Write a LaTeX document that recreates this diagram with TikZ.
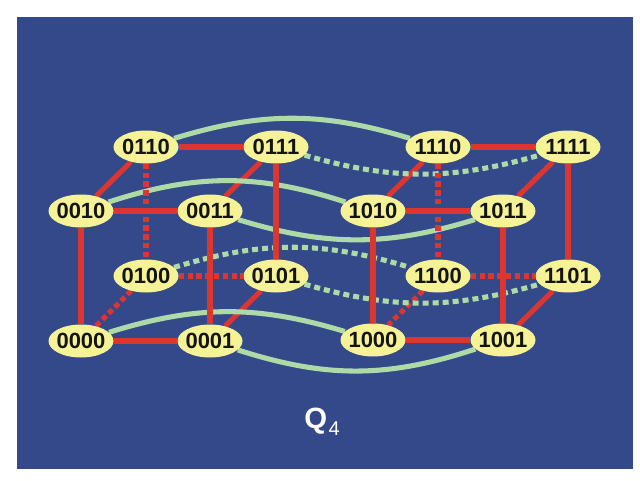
\documentclass[tikz,border=0pt]{standalone}
\usepackage{fontspec}
\setmainfont{Liberation Sans}
\usetikzlibrary{shapes.geometric}
\definecolor{bgblue}{RGB}{52,73,138}
\definecolor{edgered}{RGB}{221,53,48}
\definecolor{curvegreen}{RGB}{174,218,168}
\definecolor{nodeyellow}{RGB}{246,243,150}
\definecolor{labelink}{RGB}{20,20,20}
\pgfdeclarelayer{bg}
\pgfdeclarelayer{lowred}
\pgfdeclarelayer{greens}
\pgfdeclarelayer{topred}
\pgfsetlayers{bg,lowred,greens,topred,main}
\tikzset{
  vtx/.style={ellipse, fill=nodeyellow, minimum width=48.75pt, minimum height=24.75pt,
    inner sep=0pt, text=labelink, font=\fontsize{16.5}{18}\selectfont\bfseries},
  redline/.style={draw=edgered, line width=3.8pt},
  reddash/.style={draw=edgered, line width=3.8pt, dash pattern=on 4pt off 2.6pt},
  greenline/.style={draw=curvegreen, line width=3.8pt},
  greendot/.style={draw=curvegreen, line width=3.8pt, dash pattern=on 4.5pt off 3pt}
}
\newcommand{\vlabel}[1]{\makebox[0pt][c]{#1}}
\begin{document}
\begin{tikzpicture}[x=0.75pt,y=0.75pt]
\useasboundingbox (0,0) rectangle (640,480);
\begin{pgfonlayer}{bg}
\fill[white] (0,0) rectangle (640,480);
\fill[bgblue] (17,11) rectangle (633,463);
\end{pgfonlayer}
% vertices
\node[vtx] (n0110) at (146,333) {\vlabel{0110}};
\node[vtx] (n0111) at (276,333) {\vlabel{0111}};
\node[vtx] (n1110) at (438,333) {\vlabel{1110}};
\node[vtx] (n1111) at (568,333) {\vlabel{1111}};
\node[vtx] (n0010) at (81,269) {\vlabel{0010}};
\node[vtx] (n0011) at (210,269) {\vlabel{0011}};
\node[vtx] (n1010) at (373,269) {\vlabel{1010}};
\node[vtx] (n1011) at (503,269) {\vlabel{1011}};
\node[vtx] (n0100) at (146,204) {\vlabel{0100}};
\node[vtx] (n0101) at (276,204) {\vlabel{0101}};
\node[vtx] (n1100) at (438,204) {\vlabel{1100}};
\node[vtx] (n1101) at (568,204) {\vlabel{1101}};
\node[vtx] (n0000) at (81,139) {\vlabel{0000}};
\node[vtx] (n0001) at (210,139) {\vlabel{0001}};
\node[vtx] (n1000) at (373,140) {\vlabel{1000}};
\node[vtx] (n1001) at (503,140) {\vlabel{1001}};
% title
\node[anchor=base west, inner sep=0pt, text=white] (title) at (304,52)
  {\fontsize{22}{22}\selectfont\bfseries Q\kern1.2pt\raisebox{-5.25pt}{\fontsize{15}{15}\selectfont\mdseries 4}};
% diagonal red edges (below the green curves)
\begin{pgfonlayer}{lowred}
\draw[redline] (n0110) -- (n0010);
\draw[redline] (n0111) -- (n0011);
\draw[redline] (n0101) -- (n0001);
\draw[reddash] (n0100) -- (n0000);
\draw[redline] (n1110) -- (n1010);
\draw[redline] (n1111) -- (n1011);
\draw[redline] (n1101) -- (n1001);
\draw[reddash] (n1100) -- (n1000);
\end{pgfonlayer}
% green curves between the two cubes
\begin{pgfonlayer}{greens}
\draw[greenline] (n0110) to[bend left=17] (n1110);
\draw[greenline] (n0010) to[bend left=18] (n1010);
\draw[greenline] (n0011) to[bend right=17] (n1011);
\draw[greenline] (n0000) to[bend left=17] (n1000);
\draw[greenline] (n0001) to[bend right=18] (n1001);
\draw[greendot] (n0111) to[bend right=16] (n1111);
\draw[greendot] (n0100) to[bend left=17] (n1100);
\draw[greendot] (n0101) to[bend right=16] (n1101);
\end{pgfonlayer}
% horizontal and vertical red edges
\begin{pgfonlayer}{topred}
\draw[redline] (n0110) -- (n0111);
\draw[redline] (n0010) -- (n0011);
\draw[redline] (n0000) -- (n0001);
\draw[reddash] (n0100) -- (n0101);
\draw[redline] (n0010) -- (n0000);
\draw[redline] (n0011) -- (n0001);
\draw[redline] (n0111) -- (n0101);
\draw[reddash] (n0110) -- (n0100);
\draw[redline] (n1110) -- (n1111);
\draw[redline] (n1010) -- (n1011);
\draw[redline] (n1000) -- (n1001);
\draw[reddash] (n1100) -- (n1101);
\draw[redline] (n1010) -- (n1000);
\draw[redline] (n1011) -- (n1001);
\draw[redline] (n1111) -- (n1101);
\draw[reddash] (n1110) -- (n1100);
\end{pgfonlayer}
\end{tikzpicture}
\end{document}
